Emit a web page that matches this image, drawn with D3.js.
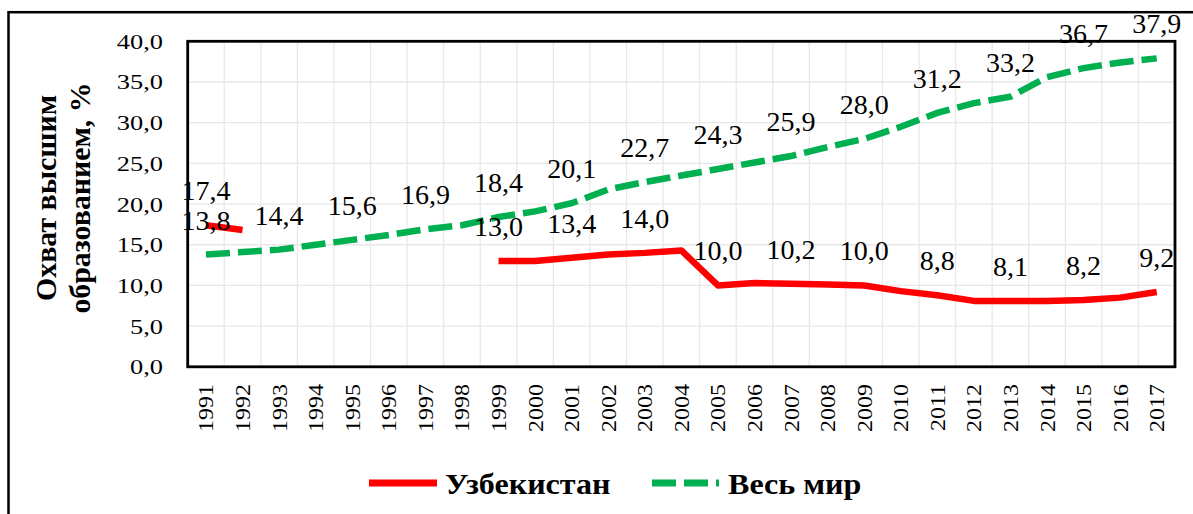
<!DOCTYPE html>
<html>
<head>
<meta charset="utf-8">
<script src="https://cdn.jsdelivr.net/npm/d3@7"></script>
<style>
html,body{margin:0;padding:0;background:#fff;}
svg{display:block;}
</style>
</head>
<body>
<svg id="chart" width="1193" height="514" font-family="'Liberation Serif', 'Times New Roman', Tinos, serif"></svg>
<script>
// ---- data ----
const years = ["1991","1992","1993","1994","1995","1996","1997","1998","1999","2000","2001","2002","2003","2004","2005","2006","2007","2008","2009","2010","2011","2012","2013","2014","2015","2016","2017"];
const uzbekistan = [17.4,16.8,null,null,null,null,null,null,13.0,13.0,13.4,13.8,14.0,14.3,10.0,10.3,10.2,10.1,10.0,9.3,8.8,8.1,8.1,8.1,8.2,8.5,9.2];
const world = [13.8,14.1,14.4,15.0,15.6,16.2,16.9,17.4,18.4,19.1,20.1,21.8,22.7,23.5,24.3,25.1,25.9,27.0,28.0,29.5,31.2,32.4,33.2,35.6,36.7,37.4,37.9];
const yTicks = [0,5,10,15,20,25,30,35,40];
const seriesNames = ["Узбекистан","Весь мир"];
const axisTitle = ["Охват высшим","образованием, %"];

// ---- layout ----
const FONT = "'Liberation Serif', 'Times New Roman', Tinos, serif";
const svg = d3.select("#chart");
const L = 187.7, R = 1175, T = 41.3, B = 366.8;
const x = d3.scaleBand().domain(years).range([L, R]).padding(0);
const y = d3.scaleLinear().domain([0, 40]).range([B, T]);
const cx = d => x(d) + x.bandwidth() / 2;
const fmt = v => v.toFixed(1).replace(".", ",");

svg.append("rect").attr("width", 1193).attr("height", 514).attr("fill", "#fff");
// outer frame (cropped at right/bottom)
svg.append("rect").attr("x", 8.5).attr("y", 12.2).attr("width", 1300).attr("height", 600)
  .attr("fill", "none").attr("stroke", "#000").attr("stroke-width", 2.5);

// gridlines
const grid = svg.append("g").attr("stroke", "#e8e8e8").attr("stroke-width", 1.3);
grid.selectAll(".h").data(yTicks.slice(1, -1)).enter().append("line")
  .attr("x1", L).attr("x2", R).attr("y1", d => y(d)).attr("y2", d => y(d));
grid.selectAll(".v").data(years.slice(1)).enter().append("line")
  .attr("x1", d => x(d)).attr("x2", d => x(d)).attr("y1", T).attr("y2", B);

// y axis tick labels
svg.append("g").selectAll("text").data(yTicks).enter().append("text")
  .style("font-family", FONT)
  .attr("transform", d => `translate(163,${y(d) + 7.5}) scale(1.2,1)`)
  .attr("text-anchor", "end").attr("font-size", 22).text(d => fmt(d));

// x axis tick labels
svg.append("g").selectAll("text").data(years).enter().append("text")
  .style("font-family", FONT)
  .attr("transform", d => `translate(${cx(d) + 7.5},384) rotate(-90) scale(1.2,1)`)
  .attr("text-anchor", "end").attr("font-size", 20).text(d => d);

// axis title
svg.append("g").selectAll("text").data(axisTitle).enter().append("text")
  .style("font-family", FONT)
  .attr("transform", (d, i) => `translate(${56 + i * 34},198) rotate(-90) scale(1.03,1)`)
  .attr("text-anchor", "middle").attr("font-size", 29).attr("font-weight", "bold").text(d => d);

// lines
const line = d3.line().defined(d => d.v != null).x(d => cx(d.year)).y(d => y(d.v));
const uzbData = years.map((yr, i) => ({year: yr, v: uzbekistan[i]}));
const worldData = years.map((yr, i) => ({year: yr, v: world[i]}));
svg.append("path").datum(worldData).attr("d", line).attr("fill", "none")
  .attr("stroke", "#00b050").attr("stroke-width", 6.5).attr("stroke-dasharray", "24,8");
svg.append("path").datum(uzbData).attr("d", line).attr("fill", "none")
  .attr("stroke", "#ff0000").attr("stroke-width", 6.5).attr("stroke-linejoin", "round");

// plot border
svg.append("rect").attr("x", L).attr("y", T).attr("width", R - L).attr("height", B - T)
  .attr("fill", "none").attr("stroke", "#000").attr("stroke-width", 2.8);

// data labels (odd years)
const labelData = [];
years.forEach((yr, i) => {
  if (i % 2 === 0) {
    if (world[i] != null) labelData.push({year: yr, v: world[i]});
    if (uzbekistan[i] != null) labelData.push({year: yr, v: uzbekistan[i]});
  }
});
svg.append("g").selectAll("text").data(labelData).enter().append("text")
  .style("font-family", FONT)
  .attr("x", d => cx(d.year)).attr("y", d => y(d.v) - 25)
  .attr("text-anchor", "middle").attr("font-size", 28).text(d => fmt(d.v));

// legend
const lg = svg.append("g");
lg.append("line").attr("x1", 369).attr("x2", 437).attr("y1", 483).attr("y2", 483)
  .attr("stroke", "#ff0000").attr("stroke-width", 7);
lg.append("text").style("font-family", FONT).attr("transform", "translate(445,494) scale(1.07,1)")
  .attr("font-size", 30).attr("font-weight", "bold").text(seriesNames[0]);
lg.append("line").attr("x1", 652).attr("x2", 719).attr("y1", 483).attr("y2", 483)
  .attr("stroke", "#00b050").attr("stroke-width", 7).attr("stroke-dasharray", "24,8");
lg.append("text").style("font-family", FONT).attr("transform", "translate(728,494) scale(1.07,1)")
  .attr("font-size", 30).attr("font-weight", "bold").text(seriesNames[1]);
</script>
</body>
</html>
